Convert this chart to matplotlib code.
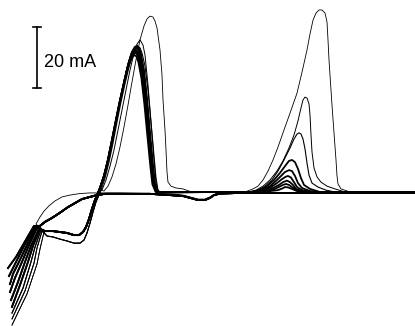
import matplotlib
matplotlib.use("Agg")
import matplotlib.pyplot as plt

# Potential E in mV (arbitrary reference), current I in mA.
# --- cathodic-limit tails (from the crossing knot down to the switching point), one per cycle
tail_E = [[-830, -880, -920, -960],
          [-825, -875, -915, -955],
          [-820, -865, -905, -935, -950],
          [-815, -855, -890, -925, -950],
          [-805, -845, -875, -910, -945],
          [-800, -835, -860, -900, -940],
          [-795, -825, -845, -885, -940],
          [-790, -815, -830, -875, -940],
          [-780, -800, -815, -865, -940]]
tail_I = [[-11.0, -16.6, -21.1, -24.7],
          [-11.4, -16.9, -22.1, -27.3],
          [-11.4, -17.2, -22.7, -26.6, -29.9],
          [-11.7, -17.2, -22.7, -27.9, -32.5],
          [-12.0, -17.5, -22.7, -29.2, -35.1],
          [-12.0, -17.5, -22.7, -30.2, -37.3],
          [-12.3, -17.9, -22.7, -31.2, -39.3],
          [-12.7, -18.2, -23.1, -32.1, -41.2],
          [-13.0, -18.5, -23.4, -33.1, -43.2]]

# --- forward sweep, nucleation loop before the first stripping peak
loop_E_bold = [-775, -735, -700, -665, -630, -605, -585, -570, -555, -540, -525, -510]
loop_I_bold = [-12.7, -12.7, -13.0, -13.3, -14.0, -14.0, -13.0, -11.4, -8.8, -5.5, -2.6, -0.3]
loop_E_thin = [-765, -735, -700, -665, -630, -600, -580, -565, -550, -535, -520, -505, -495]
loop_I_thin = [-14.3, -14.6, -15.3, -15.9, -16.6, -16.6, -15.6, -13.3, -10.1, -6.5, -3.2, -1.0, 0.6]

# --- first anodic peak, one per cycle
peak1_E = [
    [-500, -480, -462, -443, -424, -405, -386, -367, -352, -338, -328, -318, -308, -293, -278, -263, -248, -238, -222],
    [-500, -481, -461, -442, -422, -403, -383, -364, -349, -334, -324, -314, -304, -289, -274, -259, -244, -234, -219],
    [-500, -480, -460, -441, -421, -401, -381, -362, -347, -332, -322, -312, -302, -287, -272, -257, -242, -232, -217],
    [-500, -480, -460, -440, -420, -400, -380, -360, -345, -330, -320, -310, -300, -285, -270, -255, -240, -230, -215],
    [-500, -480, -459, -439, -419, -399, -379, -358, -343, -328, -318, -307, -297, -282, -267, -252, -237, -227, -212],
    [-500, -479, -458, -438, -418, -397, -377, -356, -341, -326, -315, -305, -295, -280, -265, -250, -235, -225, -210],
    [-495, -475, -455, -435, -415, -395, -375, -355, -340, -325, -310, -300, -290, -275, -260, -245, -230, -220, -210, -195],
    [-490, -470, -450, -430, -410, -390, -370, -350, -330, -315, -300, -285, -275, -260, -250, -240, -230, -220, -210, -190],
    [-480, -460, -440, -420, -400, -380, -360, -340, -320, -300, -280, -265, -250, -235, -225, -215, -200, -190,
     -185, -175, -170, -165, -160, -145, -120, -85, -50]]
peak1_I = [
    [1.3, 5.1, 10.1, 16.0, 22.3, 28.3, 33.8, 39.0, 42.0, 43.8, 44.5, 44.0, 42.2, 37.0, 28.5, 18.2, 8.2, 2.5, 0],
    [1.3, 5.1, 10.2, 16.3, 22.7, 28.9, 34.6, 40.1, 43.1, 44.8, 45.2, 44.7, 42.8, 37.7, 29.0, 18.5, 8.3, 2.5, 0],
    [1.3, 5.2, 10.3, 16.5, 22.9, 29.2, 35.0, 40.6, 43.7, 45.3, 45.7, 45.1, 43.1, 38.0, 29.3, 18.7, 8.4, 2.6, 0],
    [1.3, 5.2, 10.4, 16.6, 23.1, 29.5, 35.4, 41.1, 44.2, 45.8, 46.1, 45.5, 43.5, 38.3, 29.5, 18.8, 8.4, 2.6, 0],
    [1.3, 5.2, 10.5, 16.8, 23.4, 29.9, 35.9, 41.6, 44.8, 46.4, 46.8, 46.2, 44.1, 38.9, 30.0, 19.1, 8.5, 2.6, 0],
    [1.3, 5.3, 10.6, 17.0, 23.7, 30.3, 36.4, 42.2, 45.4, 47.1, 47.5, 46.9, 44.8, 39.5, 30.5, 19.4, 8.6, 2.6, 0],
    [0.6, 4.5, 9.7, 15.9, 22.7, 29.2, 35.1, 40.6, 43.8, 46.1, 47.1, 46.8, 45.1, 40.9, 33.1, 22.7, 11.7, 4.5, 0.6, -0.3],
    [0.6, 3.9, 8.4, 13.6, 20.1, 26.6, 33.1, 39.6, 45.1, 48.0, 49.4, 47.7, 44.5, 34.7, 26.6, 18.5, 10.4, 3.2, 0.3, -0.3],
    [0.3, 1.9, 4.9, 9.1, 14.6, 21.1, 28.2, 35.7, 42.9, 49.4, 53.9, 56.2, 57.1, 56.8, 55.5, 53.3, 46.1, 38.0,
     29.9, 20.1, 13.6, 6.5, 3.2, 1.9, 1.3, 1.0, 0.2]]

# --- second anodic peak, one per cycle
peak2_E = [
    [310, 350, 390, 410, 425, 440, 460, 485, 525],
    [300, 340, 375, 400, 415, 430, 445, 460, 480, 525],
    [290, 330, 365, 395, 415, 435, 450, 465, 480, 510, 550],
    [280, 320, 355, 385, 410, 430, 440, 455, 470, 485, 510, 550],
    [275, 315, 350, 380, 405, 425, 445, 460, 475, 490, 510, 550, 590],
    [260, 300, 335, 370, 400, 425, 445, 460, 475, 490, 505, 520, 550, 600],
    [250, 290, 325, 360, 390, 420, 450, 470, 485, 495, 505, 515, 525, 535, 545, 560, 590, 630, 675],
    [240, 280, 315, 350, 385, 415, 445, 470, 490, 505, 515, 525, 535, 545, 550, 555, 560, 570, 585, 605, 635, 675, 725],
    [225, 265, 290, 315, 340, 365, 390, 415, 450, 485, 510, 535, 550, 565, 580, 595, 610, 625, 635, 640, 645,
     650, 660, 670, 680, 685, 690, 705, 750]]
peak2_I = [
    [0, 0.3, 0.6, 1.1, 1.6, 1.5, 1.0, 0.3, 0],
    [0, 0.3, 1.0, 1.8, 2.3, 2.6, 2.3, 1.6, 0.6, 0],
    [0, 0.3, 1.3, 2.3, 3.2, 3.7, 3.2, 2.3, 1.0, 0.3, 0],
    [0, 0.5, 1.6, 2.9, 4.2, 5.0, 5.2, 4.7, 3.2, 1.6, 0.6, 0],
    [0, 0.6, 1.9, 3.6, 5.2, 6.5, 7.1, 6.8, 5.2, 2.9, 1.3, 0.3, 0],
    [0, 0.6, 1.9, 3.9, 6.2, 8.4, 10.1, 10.4, 9.7, 7.5, 4.5, 2.3, 1.0, 0],
    [0, 0.6, 1.9, 3.9, 6.8, 10.4, 14.3, 17.2, 18.8, 19.2, 18.8, 17.2, 14.0, 9.4, 5.5, 2.9, 1.6, 0.6, 0],
    [0, 0.6, 1.9, 3.9, 6.8, 10.1, 14.3, 18.5, 23.1, 27.3, 29.9, 30.8, 30.5, 28.6, 25.0, 18.5, 13.0, 7.8, 4.9,
     3.2, 1.9, 1.0, 0],
    [0, 1.0, 1.9, 3.9, 6.8, 10.4, 14.6, 19.2, 25.6, 32.1, 38.9, 46.1, 51.3, 55.8, 58.1, 59.1, 59.1, 58.1, 55.2,
     49.4, 42.9, 38.0, 28.2, 19.2, 10.4, 5.2, 2.6, 1.0, 0]]

# --- reverse sweeps (from the anodic limit back to the knot)
rev_E_bold = [1075, 200, 100, 70, 50, 25, -10, -50, -85, -150, -250, -400, -475, -515, -550, -590, -625, -660,
              -695, -725, -750, -775, -800]
rev_I_bold = [-0.3, -0.3, -0.5, -1.0, -1.9, -2.6, -2.6, -1.9, -1.3, -1.0, -0.6, -0.6, -0.6, -1.0, -1.6, -2.3,
              -3.6, -4.9, -6.5, -7.8, -8.8, -9.7, -11.0]
rev_E_thin = [1075, 200, 100, 70, 50, 25, -10, -50, -85, -150, -250, -400, -500, -550, -600, -650, -690, -725,
              -755, -780, -800, -820]
rev_I_thin = [-0.3, -0.3, -0.5, -1.0, -1.6, -2.3, -2.3, -1.6, -1.0, -0.6, -0.5, -0.3, -0.3, -0.3, -0.5, -1.0,
              -1.6, -2.9, -4.5, -6.2, -8.1, -10.4]

E_limit = 1075
loop_kind = ["bold"] * 6 + ["thin"] * 3
rev_kind = ["bold"] * 8 + ["thin"]
cycle_lw = [1.3] * 6 + [0.8, 0.7, 0.6]

scale_E = -815
scale_I = [33.7, 53.7]
scale_label = "20 mA"

fig = plt.figure(figsize=(4.15, 3.26), dpi=100)
ax = fig.add_axes([0, 0, 1, 1])
ax.set_xlim(-1000, 1075)
ax.set_ylim(-43.51, 62.34)
ax.axis("off")

for c in range(9):
    lE = loop_E_bold if loop_kind[c] == "bold" else loop_E_thin
    lI = loop_I_bold if loop_kind[c] == "bold" else loop_I_thin
    fE = tail_E[c][::-1] + lE + peak1_E[c] + peak2_E[c] + [E_limit]
    fI = tail_I[c][::-1] + lI + peak1_I[c] + peak2_I[c] + [0]
    rE = (rev_E_bold if rev_kind[c] == "bold" else rev_E_thin) + tail_E[c]
    rI = (rev_I_bold if rev_kind[c] == "bold" else rev_I_thin) + tail_I[c]
    ax.plot(fE, fI, color="black", lw=cycle_lw[c], solid_joinstyle="round")
    ax.plot(rE, rI, color="black", lw=cycle_lw[c], solid_joinstyle="round")

# scale bar
ax.plot([scale_E, scale_E], scale_I, color="black", lw=1.2)
for yv in scale_I:
    ax.plot([scale_E - 18, scale_E + 18], [yv, yv], color="black", lw=1.2)
ax.text(-780, 42.2, scale_label, ha="left", va="center", fontsize=13,
        family=["Liberation Sans Narrow", "Liberation Sans", "DejaVu Sans"])

fig.savefig("out.png", dpi=100)
